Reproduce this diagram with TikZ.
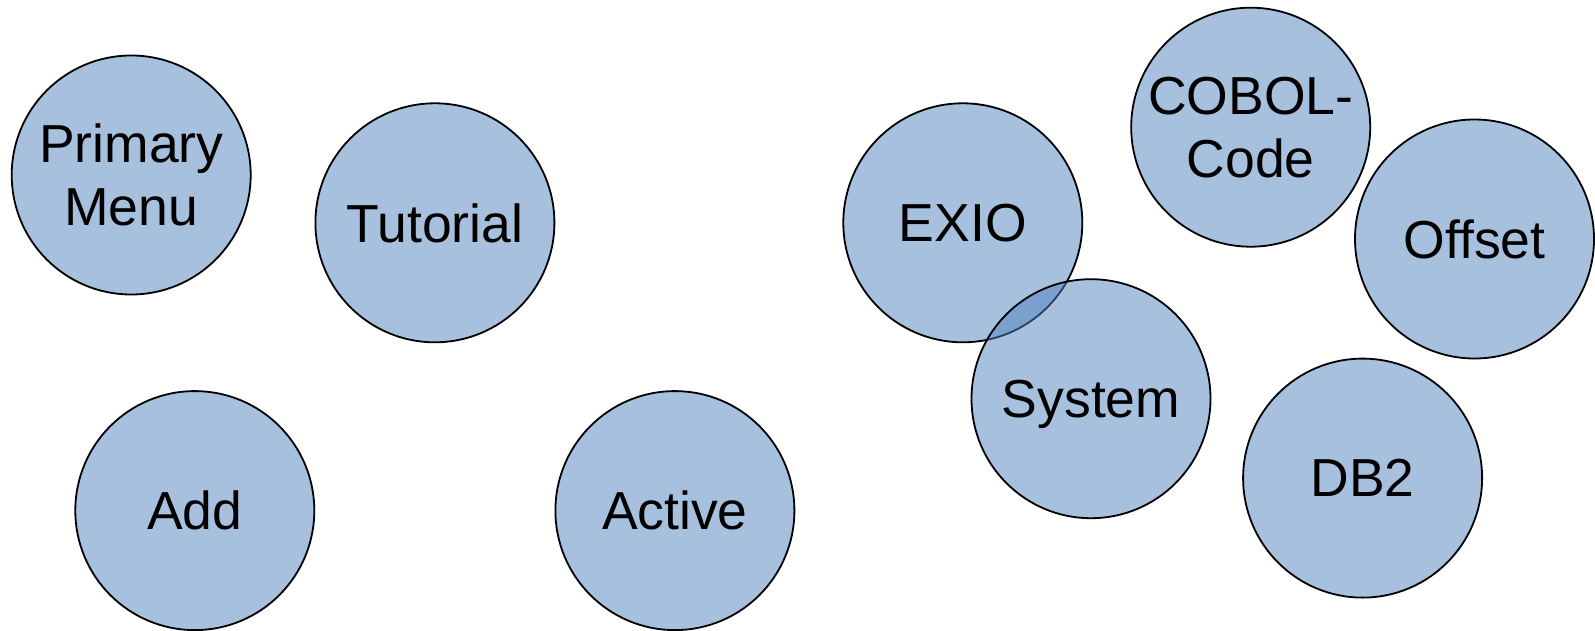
\documentclass[tikz,border=0pt]{standalone}
\usepackage{fontspec}
\setmainfont{Liberation Sans}
\definecolor{bub}{HTML}{4F81BD}
\tikzset{
  bubble/.style={circle, draw=black, line width=1.8pt, fill=bub, fill opacity=0.5, text opacity=1,
    minimum size=239pt, inner sep=0pt, align=center, text=black,
    font=\fontsize{53.5}{63}\selectfont},
  flat/.style={text depth=0pt}
}
\begin{document}
\begin{tikzpicture}[x=1pt,y=-1pt]
\useasboundingbox (0,0) rectangle (1595,631);
\node[bubble] (pm) at (131.2,175) {Primary\\Menu};
\node[bubble,flat] (tut) at (434.9,222.8) {Tutorial};
\node[bubble,flat] (add) at (194.8,510.6) {Add};
\node[bubble,flat] (act) at (674.9,510.6) {Active};
\node[bubble,flat] (exio) at (962.8,222.8) {EXIO};
\node[bubble,flat] (sys) at (1091,398.7) {System};
\node[bubble] (cob) at (1250.7,127.2) {COBOL-\\Code};
\node[bubble,flat] (off) at (1474.5,239) {Offset};
\node[bubble,flat] (db2) at (1362.6,478.1) {DB2};
\end{tikzpicture}
\end{document}
